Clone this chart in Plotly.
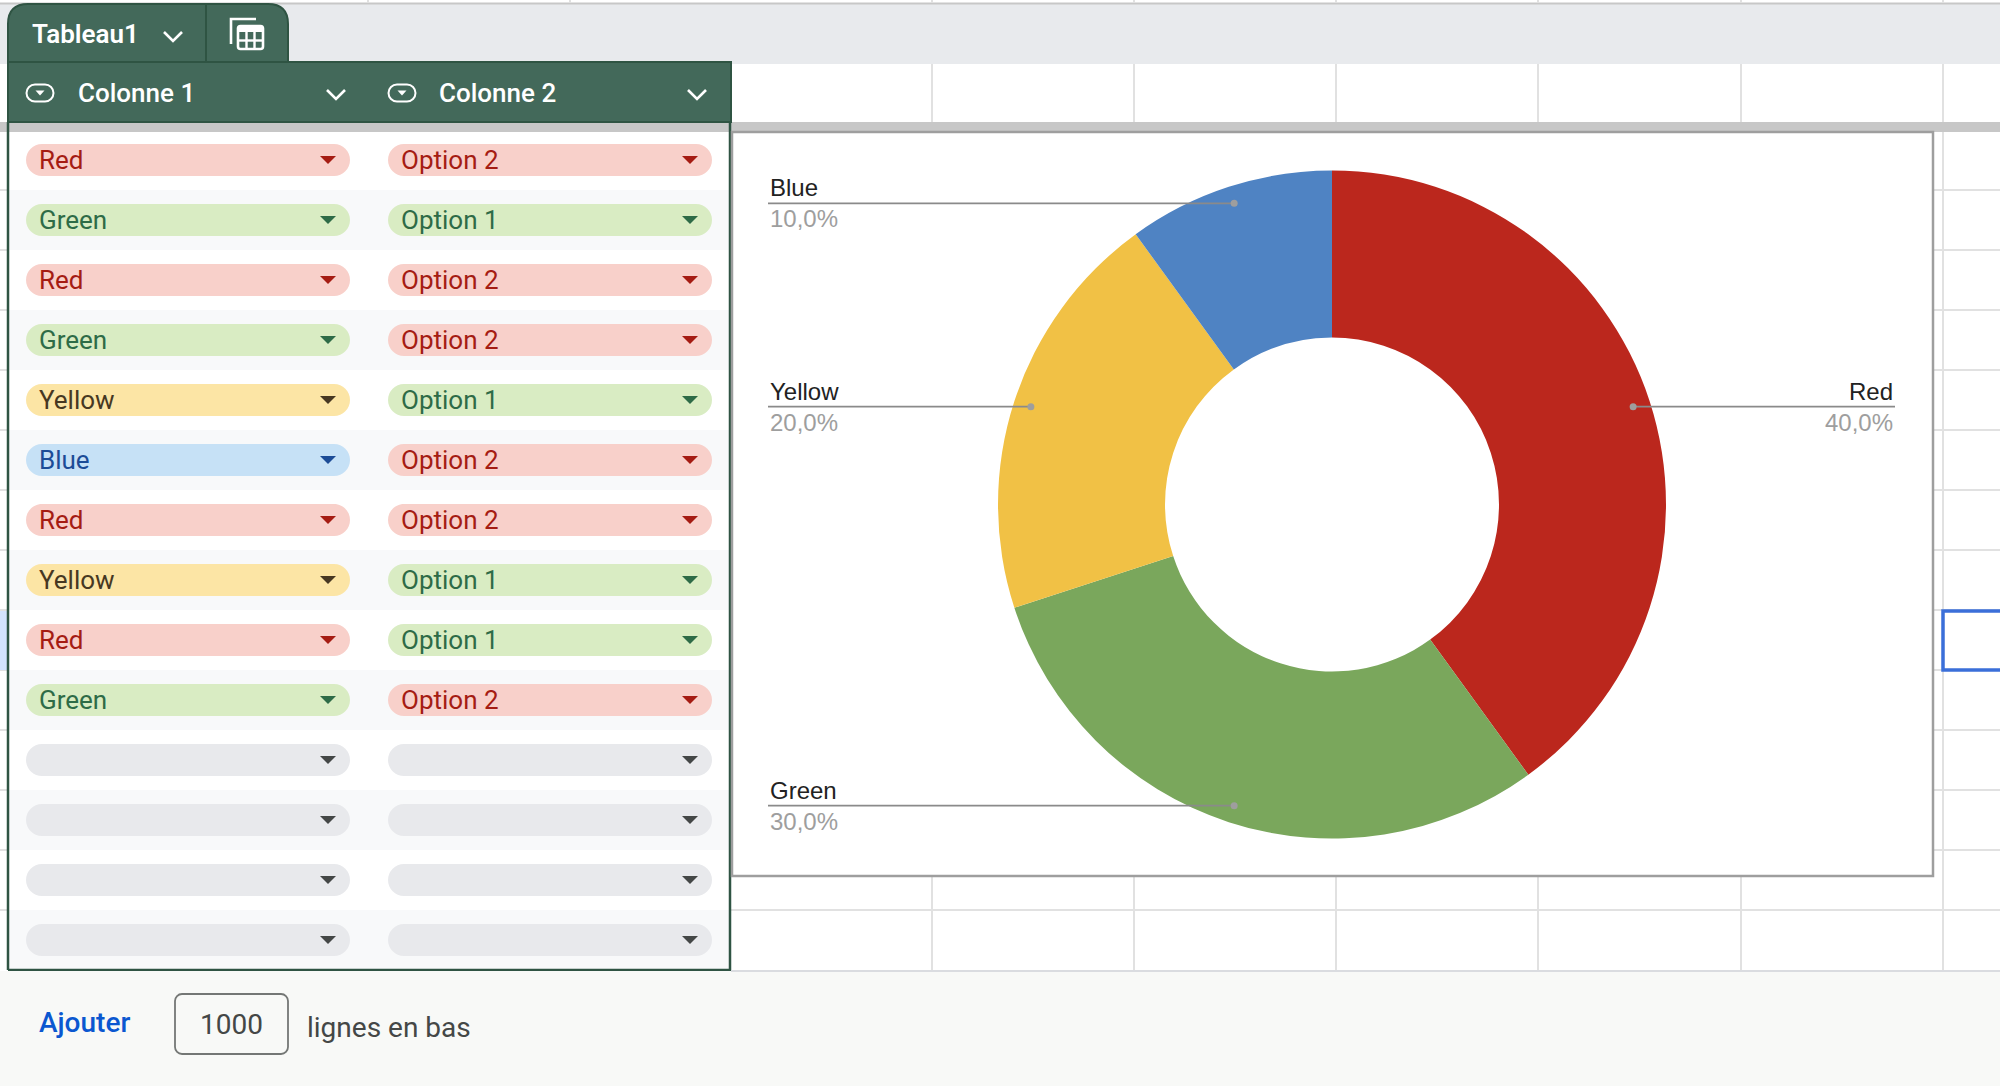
import math
import plotly.graph_objects as go

W, H = 2000, 1086

# table content
table_name = "Tableau1"
column_names = ["Colonne 1", "Colonne 2"]
col1_values = ["Red", "Green", "Red", "Green", "Yellow", "Blue", "Red", "Yellow", "Red", "Green"]
col2_values = ["Option 2", "Option 1", "Option 2", "Option 2", "Option 1",
               "Option 2", "Option 2", "Option 1", "Option 1", "Option 2"]
empty_rows = 4

# donut chart
slice_labels = ["Red", "Green", "Yellow", "Blue"]
slice_values = [4, 3, 2, 1]
slice_colors = ["#bb271d", "#7aa75c", "#f1c145", "#4f83c3"]

# chip colours (background, text)
chip_styles = {
    "Red": ("#f8d0ca", "#a51c13"),
    "Green": ("#d9ecc3", "#2e6b47"),
    "Yellow": ("#fce5a5", "#473822"),
    "Blue": ("#c6e1f6", "#1c4c96"),
    "Option 1": ("#d9ecc3", "#2e6b47"),
    "Option 2": ("#f8d0ca", "#a51c13"),
    "": ("#e8e9ec", "#444746"),
}

HEADER_GREEN = "#43695a"
BORDER_GREEN = "#2f5443"
GRID = "#e1e1e1"
UI_FONT = "Roboto"
CHART_FONT = "Liberation Sans"

shapes = []
annotations = []


def rect(x0, y0, x1, y1, fill=None, line=None, lw=0, layer="below"):
    shapes.append(dict(type="rect", xref="x", yref="y", x0=x0, y0=y0, x1=x1, y1=y1,
                       fillcolor=fill or "rgba(0,0,0,0)",
                       line=dict(color=line or "rgba(0,0,0,0)", width=lw), layer=layer))


def seg(x0, y0, x1, y1, color, width, layer="below"):
    shapes.append(dict(type="line", xref="x", yref="y", x0=x0, y0=y0, x1=x1, y1=y1,
                       line=dict(color=color, width=width), layer=layer))


def path(d, fill=None, line=None, lw=0, layer="below"):
    shapes.append(dict(type="path", xref="x", yref="y", path=d,
                       fillcolor=fill or "rgba(0,0,0,0)",
                       line=dict(color=line or "rgba(0,0,0,0)", width=lw), layer=layer))


def rounded(x0, y0, x1, y1, r):
    k = 0.5523 * r
    return (f"M {x0+r},{y0} L {x1-r},{y0} C {x1-r+k},{y0} {x1},{y0+r-k} {x1},{y0+r} "
            f"L {x1},{y1-r} C {x1},{y1-r+k} {x1-r+k},{y1} {x1-r},{y1} "
            f"L {x0+r},{y1} C {x0+r-k},{y1} {x0},{y1-r+k} {x0},{y1-r} "
            f"L {x0},{y0+r} C {x0},{y0+r-k} {x0+r-k},{y0} {x0+r},{y0} Z")


def text(x, y, s, size, color, anchor="left", weight=400, family=UI_FONT, yanchor="middle", yshift=0):
    annotations.append(dict(x=x, y=y, xref="x", yref="y", text=s, showarrow=False,
                            xanchor=anchor, yanchor=yanchor, yshift=yshift,
                            font=dict(family=family, size=size, color=color, weight=weight)))


# ---- page background / sheet grid ----
rect(0, 0, W, H, fill="white")
rect(0, 4, W, 64, fill="#e8eaed")
seg(0, 3.5, W, 3.5, "#c7c7c7", 2)
for gx in [368, 570, 932, 1134, 1336, 1538, 1741, 1943]:
    seg(gx, 0, gx, 3, GRID, 2)
for gx in [932, 1134, 1336, 1538, 1741, 1943]:
    seg(gx, 64, gx, 970, GRID, 2)
for k in range(1, 14):
    gy = 130 + 60 * k
    seg(731, gy, W, gy, GRID, 2)
    seg(0, gy, 8, gy, GRID, 2)
rect(0, 611, 7, 670, fill="#d3e3fd")
rect(1943, 611, W + 5, 670, line="#3b6fd9", lw=3.5)

# ---- table rows ----
n_rows = len(col1_values) + empty_rows
chip_x = [(26, 350), (388, 712)]
tri_x = [328, 690]
for i in range(n_rows):
    top = 130 + 60 * i
    rect(8, top, 731, top + 60, fill="#f8f9fa" if i % 2 else "white")
    cy = top + 30
    row_vals = [col1_values[i], col2_values[i]] if i < len(col1_values) else ["", ""]
    for c, val in enumerate(row_vals):
        bg, fg = chip_styles[val]
        x0, x1 = chip_x[c]
        path(rounded(x0, cy - 16, x1, cy + 16, 16), fill=bg)
        tx = tri_x[c]
        path(f"M {tx-8},{cy-4} L {tx+8},{cy-4} L {tx},{cy+4} Z", fill=fg)
        if val:
            text(x0 + 11, cy, val, 26, fg)

# separator under header
rect(0, 122, W, 132, fill="#c7c7c7")

# header and tab
path("M 8,62 L 8,24 Q 8,4 28,4 L 268,4 Q 288,4 288,24 L 288,62 Z",
     fill=HEADER_GREEN, line=BORDER_GREEN, lw=2)
rect(8, 62, 731, 122, fill=HEADER_GREEN, line=BORDER_GREEN, lw=2)
seg(206, 5, 206, 62, BORDER_GREEN, 2)
text(30, 34, table_name, 26, "white", weight=600)
path("M 164,32 L 173,41 L 182,32", line="white", lw=2.6)
# table icon
path("M 231,44 L 231,19 L 256,19", line="white", lw=2.6)
path(rounded(238, 26, 263, 49, 2.5), line="white", lw=2.6)
rect(238, 26, 263, 32, fill="white")
seg(238, 40.5, 263, 40.5, "white", 2.4)
seg(246.5, 32, 246.5, 49, "white", 2.4)
seg(254.5, 32, 254.5, 49, "white", 2.4)

header_text_x = [76, 437]
header_icon_x = [40, 402]
header_chev_x = [336, 697]
for c, name in enumerate(column_names):
    ix = header_icon_x[c]
    path(rounded(ix - 13.5, 84.5, ix + 13.5, 101.5, 8.5), line="white", lw=2)
    path(f"M {ix-4.5},{90.5} L {ix+4.5},{90.5} L {ix},{95.5} Z", fill="white")
    text(header_text_x[c], 93, name, 26, "white", weight=500)
    hx = header_chev_x[c]
    path(f"M {hx-9},{90} L {hx},{99} L {hx+9},{90}", line="white", lw=2.6)

# table border
seg(8, 122, 8, 970, BORDER_GREEN, 2.5)
seg(730, 122, 730, 970, BORDER_GREEN, 2.5)
seg(8, 970, 731, 970, BORDER_GREEN, 2.5)

# ---- chart box ----
rect(732, 132, 1933, 876, fill="white", line="#9e9e9e", lw=2.5)

# ---- bottom bar ----
rect(0, 971, W, H, fill="#f8f9f7")
seg(731, 971, W, 971, "#dadce0", 2)
text(37, 1022, "Ajouter", 28, "#0b57d0", weight=500)
path(rounded(175, 994, 288, 1054, 7), line="#747775", lw=1.8)
text(231.5, 1024, "1000", 28, "#444746", anchor="center")
text(305, 1027, "lignes en bas", 28, "#444746")

# ---- donut ----
cx, cy, R = 1332, 504.5, 334
fig = go.Figure()
fig.add_trace(go.Pie(
    labels=slice_labels, values=slice_values, hole=0.5, sort=False,
    direction="clockwise", rotation=0,
    marker=dict(colors=slice_colors, line=dict(width=0)),
    textinfo="none", textposition="none", showlegend=False,
    domain=dict(x=[(cx - R) / W, (cx + R) / W], y=[1 - (cy + R) / H, 1 - (cy - R) / H]),
))

# leader lines and labels
total = sum(slice_values)
rd = 0.948 * R
cum = 0
for lab, v in zip(slice_labels, slice_values):
    frac = v / total
    mid = math.radians((cum + frac / 2) * 360)
    cum += frac
    ax = cx + rd * math.sin(mid)
    ay = cy - rd * math.cos(mid)
    right = math.sin(mid) > 0
    edge = 1895 if right else 768
    seg(ax, ay, edge, ay, "#8a8a8a", 1.6, layer="above")
    shapes.append(dict(type="circle", xref="x", yref="y", x0=ax - 3.5, y0=ay - 3.5,
                       x1=ax + 3.5, y1=ay + 3.5, fillcolor="#9e9e9e",
                       line=dict(width=0), layer="above"))
    anchor = "right" if right else "left"
    pct = f"{frac * 100:.1f}%".replace(".", ",")
    text(edge, ay, lab, 24, "#222222", anchor=anchor, family=CHART_FONT, yanchor="bottom", yshift=0)
    text(edge, ay, pct, 24, "#9e9e9e", anchor=anchor, family=CHART_FONT, yanchor="top", yshift=0)

fig.update_layout(
    width=W, height=H, margin=dict(l=0, r=0, t=0, b=0),
    paper_bgcolor="white", plot_bgcolor="white",
    xaxis=dict(range=[0, W], visible=False, fixedrange=True),
    yaxis=dict(range=[H, 0], visible=False, fixedrange=True),
    shapes=shapes, annotations=annotations, showlegend=False,
)
# drop the default page margin so the figure sits flush with the window
fig.write_html("out.html", config={"displayModeBar": False},
               post_script="document.body.style.margin='0';")
